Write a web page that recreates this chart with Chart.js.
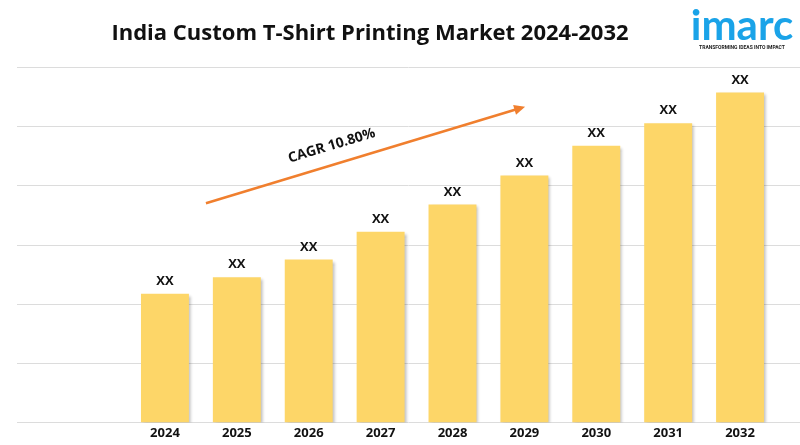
<!DOCTYPE html>
<html>
<head>
<meta charset="utf-8">
<script src="https://cdn.jsdelivr.net/npm/chart.js@4"></script>
<style>
  html, body { margin: 0; padding: 0; background: #fff; }
  #wrap { position: relative; width: 800px; height: 445px; overflow: hidden; }
  #title {
    position: absolute; left: 0; width: 740px; top: 16px; text-align: center;
    font: bold 22px "Open Sans", sans-serif; color: #111;
  }
  #logo { position: absolute; left: 688px; top: 3px; width: 108px; text-align: center; color: #1aa3e8; }
  #logo .name { font: bold 42px "Lato", sans-serif; line-height: 42px; }
  #logo .tag { font: bold 5px "Roboto", sans-serif; color: #222; margin-top: -1px; white-space: nowrap; }
  canvas { position: absolute; left: 0; top: 0; }
</style>
</head>
<body>
<div id="wrap">
  <canvas id="chart" width="800" height="445"></canvas>
  <div id="title">India Custom T-Shirt Printing Market 2024-2032</div>
  <div id="logo"><div class="name">imarc</div><div class="tag">TRANSFORMING IDEAS INTO IMPACT</div></div>
</div>
<script>
// Chart data
const years  = ['2024', '2025', '2026', '2027', '2028', '2029', '2030', '2031', '2032'];
const values = [2.17, 2.45, 2.75, 3.22, 3.68, 4.17, 4.67, 5.05, 5.57];
const valueLabels = ['XX', 'XX', 'XX', 'XX', 'XX', 'XX', 'XX', 'XX', 'XX'];
const cagrText = 'CAGR 10.80%';

// Gridlines run across the full width, wider than the chart area
const fullGrid = {
  id: 'fullGrid',
  beforeDatasetsDraw(chart) {
    const { ctx, scales: { y } } = chart;
    ctx.save();
    ctx.strokeStyle = '#dcdcdc';
    ctx.lineWidth = 1;
    y.ticks.forEach(t => {
      const py = Math.round(y.getPixelForValue(t.value)) + 0.5;
      ctx.beginPath();
      ctx.moveTo(17, py);
      ctx.lineTo(800, py);
      ctx.stroke();
    });
    ctx.restore();
    // soft shadow under the bars
    ctx.save();
    ctx.shadowColor = 'rgba(0,0,0,0.28)';
    ctx.shadowOffsetX = 2;
    ctx.shadowOffsetY = 2;
    ctx.shadowBlur = 3;
  },
  afterDatasetsDraw(chart) {
    const { ctx } = chart;
    ctx.restore();
    const meta = chart.getDatasetMeta(0);
    ctx.save();
    ctx.fillStyle = '#111';
    ctx.font = 'bold 13px "Open Sans", sans-serif';
    ctx.textAlign = 'center';
    ctx.textBaseline = 'bottom';
    meta.data.forEach((bar, i) => {
      ctx.fillText(valueLabels[i], bar.x, bar.y - 6);
    });
    ctx.restore();
  }
};

// CAGR arrow, anchored to the scales
const cagrArrow = {
  id: 'cagrArrow',
  afterDraw(chart) {
    const { ctx, scales: { x, y } } = chart;
    const x1 = x.getPixelForValue(0.57), y1 = y.getPixelForValue(3.7);
    const x2 = x.getPixelForValue(5.01), y2 = y.getPixelForValue(5.33);
    const ang = Math.atan2(y2 - y1, x2 - x1);
    ctx.save();
    ctx.strokeStyle = '#f07f2e';
    ctx.fillStyle = '#f07f2e';
    ctx.lineWidth = 2.5;
    ctx.beginPath();
    ctx.moveTo(x1, y1);
    ctx.lineTo(x2 - 8 * Math.cos(ang), y2 - 8 * Math.sin(ang));
    ctx.stroke();
    ctx.translate(x2, y2);
    ctx.rotate(ang);
    ctx.beginPath();
    ctx.moveTo(0, 0);
    ctx.lineTo(-11, -5);
    ctx.lineTo(-11, 5);
    ctx.closePath();
    ctx.fill();
    ctx.restore();

    ctx.save();
    const mx = x.getPixelForValue(2.32), my = y.getPixelForValue(4.67);
    ctx.translate(mx, my);
    ctx.rotate(ang);
    ctx.fillStyle = '#111';
    ctx.font = 'bold 14px "Open Sans", sans-serif';
    ctx.textAlign = 'center';
    ctx.textBaseline = 'middle';
    ctx.fillText(cagrText, 0, 0);
    ctx.restore();
  }
};

new Chart(document.getElementById('chart'), {
  type: 'bar',
  data: {
    labels: years,
    datasets: [{
      data: values,
      backgroundColor: '#fdd668',
      categoryPercentage: 1,
      barPercentage: 0.667
    }]
  },
  options: {
    responsive: false,
    animation: false,
    layout: { padding: { left: 121, right: 24, top: 67, bottom: 1 } },
    plugins: { legend: { display: false }, tooltip: { enabled: false } },
    scales: {
      x: {
        grid: { display: false, drawTicks: false, tickLength: 0 },
        border: { display: false },
        ticks: { color: '#111', font: { family: 'Open Sans', weight: 'bold', size: 13 }, padding: 3 }
      },
      y: {
        min: 0, max: 6,
        ticks: { display: false, stepSize: 1 },
        grid: { display: false },
        border: { display: false }
      }
    }
  },
  plugins: [fullGrid, cagrArrow]
});
</script>
</body>
</html>
